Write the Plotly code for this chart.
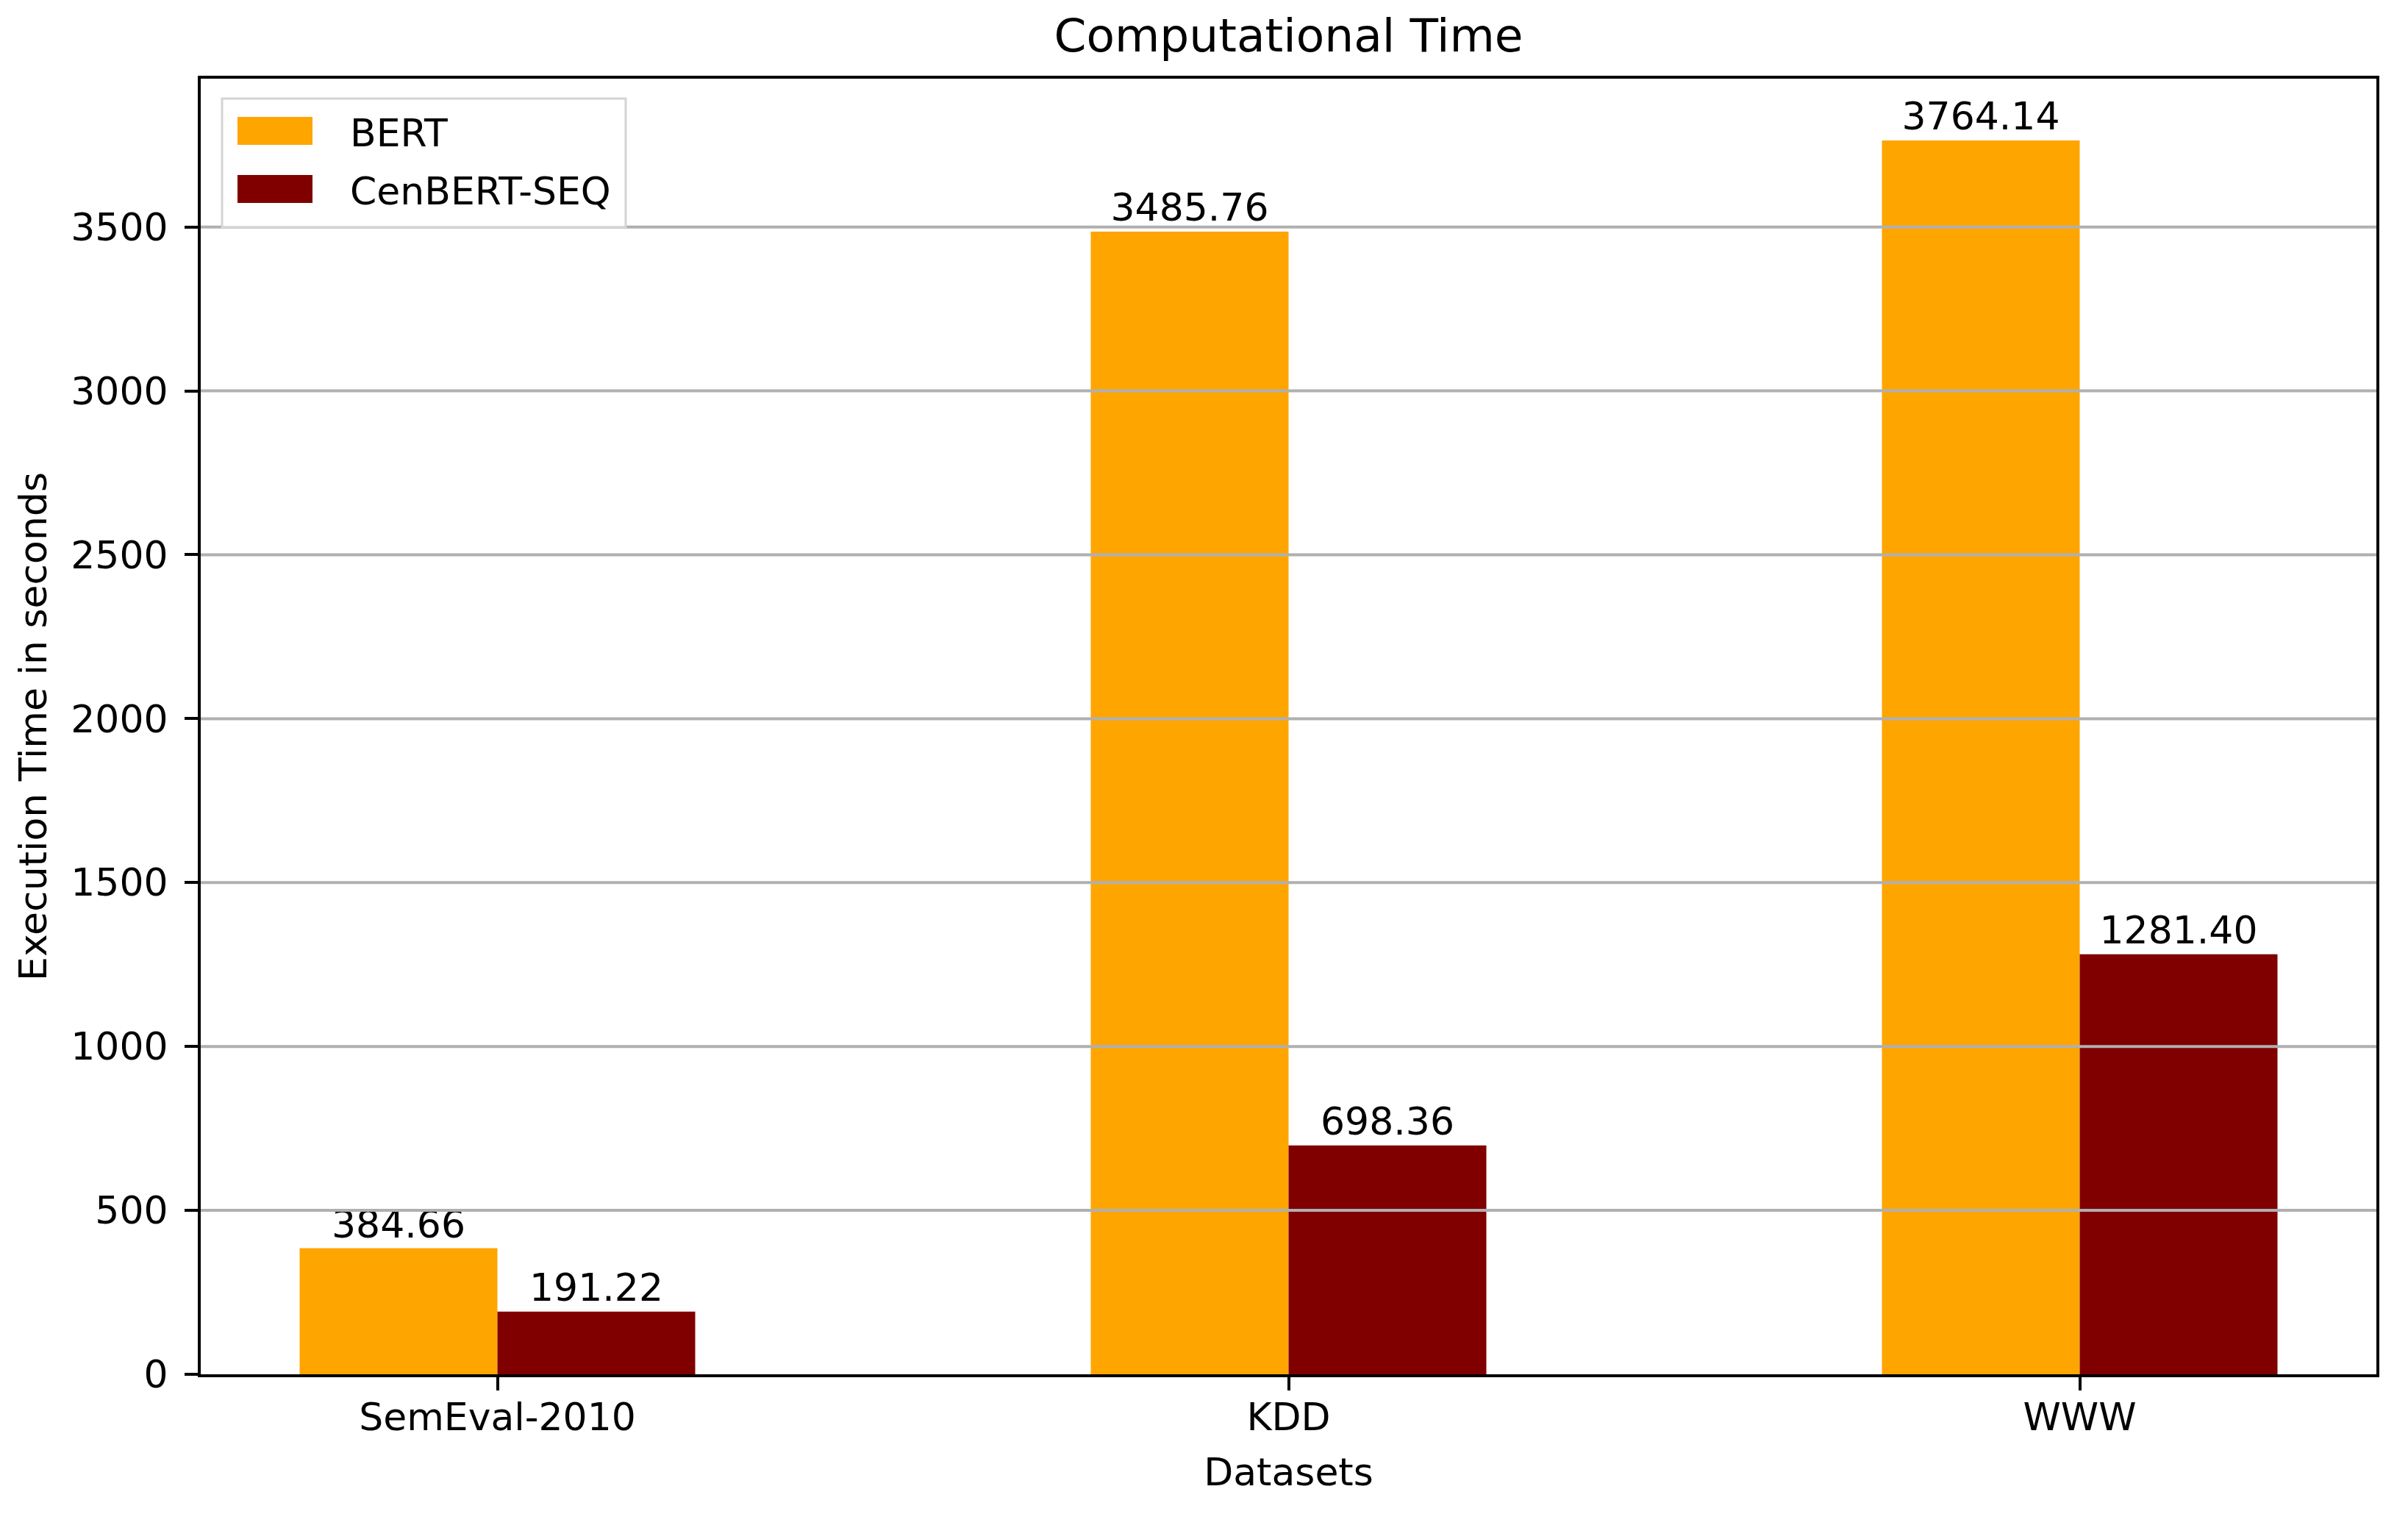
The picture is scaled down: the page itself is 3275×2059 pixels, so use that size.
import plotly.graph_objects as go

# ---------------- data ----------------
categories = ["SemEval-2010", "KDD", "WWW"]
bert_times = [384.66, 3485.76, 3764.14]
cenbert_times = [191.22, 698.36, 1281.40]
series_names = ["BERT", "CenBERT-SEQ"]
series_colors = ["#FFA500", "#800000"]
y_ticks = [0, 500, 1000, 1500, 2000, 2500, 3000, 3500]

# ---------------- layout constants (pixels) ----------------
W, H = 3275, 2059
L, R, T, B = 265, 3224, 99, 1861
FONT = "DejaVu Sans"
FS = 52
BAR_W = 0.25


def px_x(px):
    return (px - L) / (R - L)


def px_y(py):
    return (B - py) / (B - T)


xpos = list(range(len(categories)))
series_values = [bert_times, cenbert_times]
offsets = [-BAR_W, 0.0]

fig = go.Figure()
for name, vals, col, off in zip(series_names, series_values, series_colors, offsets):
    fig.add_trace(go.Bar(
        x=xpos, y=vals, name=name,
        width=BAR_W, offset=off,
        marker=dict(color=col, line=dict(width=0)),
        text=[f"{v:.2f}" for v in vals],
        textposition="outside",
        textfont=dict(family=FONT, size=FS, color="#000000"),
        constraintext="none",
        cliponaxis=False,
        showlegend=False,
    ))

ymax = max(max(bert_times), max(cenbert_times)) * 1.05

shapes = []
# horizontal grid lines drawn above bars (as in reference)
for yv in y_ticks[1:]:
    shapes.append(dict(type="line", xref="paper", yref="y", x0=0, x1=1, y0=yv, y1=yv,
                       line=dict(color="#b0b0b0", width=4), layer="above"))

# legend frame
shapes.append(dict(type="rect", xref="paper", yref="paper",
                   x0=px_x(294), x1=px_x(843), y0=px_y(301), y1=px_y(126),
                   fillcolor="rgba(255,255,255,0.85)", line=dict(color="#d4d4d4", width=3),
                   layer="above"))
annotations = []
sw_centers = [170, 249]
for name, col, cy in zip(series_names, series_colors, sw_centers):
    shapes.append(dict(type="rect", xref="paper", yref="paper",
                       x0=px_x(315), x1=px_x(417), y0=px_y(cy + 19), y1=px_y(cy - 19),
                       fillcolor=col, line=dict(width=0), layer="above"))
    annotations.append(dict(xref="paper", yref="paper", x=px_x(466), y=px_y(cy + 3),
                            xanchor="left", yanchor="middle", showarrow=False, text=name,
                            font=dict(family=FONT, size=FS, color="#000000")))

fig.update_layout(
    width=W, height=H,
    margin=dict(l=L, r=W - R, t=T, b=H - B, pad=0),
    paper_bgcolor="white", plot_bgcolor="white",
    barmode="overlay",
    showlegend=False,
    font=dict(family=FONT, size=FS, color="#000000"),
    title=dict(text="Computational Time", x=0.5, xref="paper", xanchor="center",
               y=1 - 62 / H, yref="container", yanchor="bottom",
               font=dict(family=FONT, size=63, color="#000000")),
    xaxis=dict(
        range=[-0.375, len(categories) - 1 + 0.375],
        tickvals=xpos, ticktext=categories,
        showgrid=False, zeroline=False,
        showline=True, linecolor="black", linewidth=4, mirror=True,
        ticks="outside", ticklen=18, tickwidth=4, tickcolor="black",
        ticklabelstandoff=-8,
        tickfont=dict(family=FONT, size=FS, color="#000000"),
        title=dict(text="Datasets", standoff=28,
                   font=dict(family=FONT, size=FS, color="#000000")),
    ),
    yaxis=dict(
        range=[0, ymax],
        tickvals=y_ticks, ticktext=[str(v) for v in y_ticks],
        showgrid=False, zeroline=False,
        showline=True, linecolor="black", linewidth=4, mirror=True,
        ticks="outside", ticklen=18, tickwidth=4, tickcolor="black",
        ticklabelstandoff=12,
        tickfont=dict(family=FONT, size=FS, color="#000000"),
        title=dict(text="Execution Time in seconds", standoff=17,
                   font=dict(family=FONT, size=FS, color="#000000")),
    ),
    shapes=shapes,
    annotations=annotations,
)

fig.write_html("out.html")
